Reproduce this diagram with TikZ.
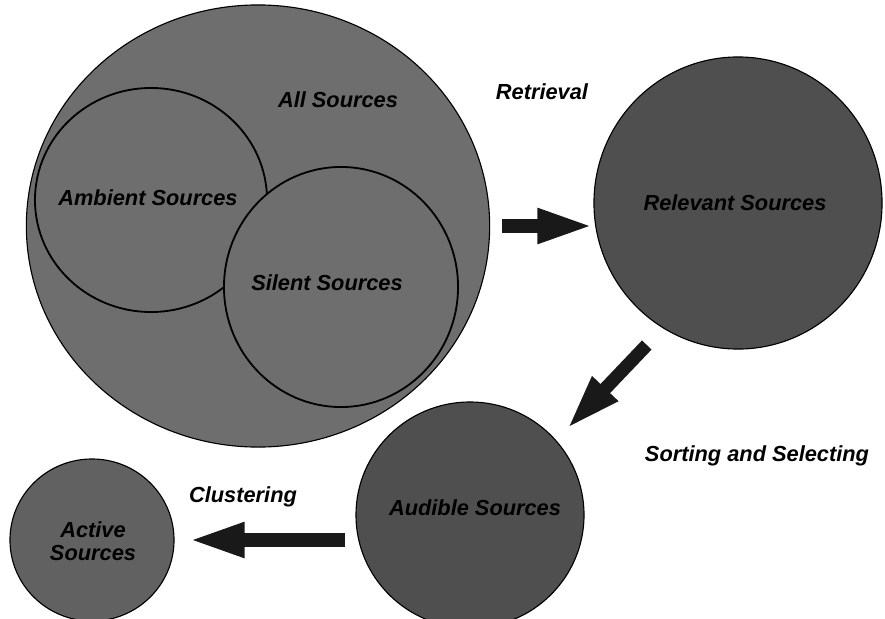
\documentclass[tikz,border=0pt]{standalone}
\usepackage{fontspec}
\newfontfamily\diagfont{Liberation Sans}
\usetikzlibrary{arrows.meta,shapes.geometric}
\definecolor{allgray}{gray}{0.43}
\definecolor{relgray}{gray}{0.31}
\definecolor{actgray}{gray}{0.38}
\tikzset{
  setcircle/.style={ellipse, draw=black, line width=0.8pt, inner sep=0pt},
  settext/.style={font=\diagfont\bfseries\itshape\fontsize{15.5}{16}\selectfont, align=center, inner sep=0pt},
  steparrow/.style={draw=black!90, line width=0.33cm, -{Triangle[length=1.4cm,width=0.8cm]}},
}
\begin{document}
\begin{tikzpicture}[x=0.025cm,y=-0.025cm]
  \useasboundingbox (0,0) rectangle (885,618);
  \node[setcircle, fill=allgray, minimum width=11.58cm, minimum height=11.05cm] (all) at (258,226) {};
  \node[setcircle, line width=1.3pt, fill=allgray, minimum width=5.8cm, minimum height=5.6cm] (amb) at (151,200) {};
  \node[setcircle, line width=1.3pt, fill=allgray, minimum width=5.85cm, minimum height=6cm] (sil) at (341,287) {};
  \node[setcircle, fill=relgray, minimum width=7.2cm, minimum height=7.3cm] (rel) at (738,203) {};
  \node[setcircle, fill=relgray, minimum width=5.7cm, minimum height=5.65cm] (aud) at (470,515) {};
  \node[setcircle, fill=actgray, minimum width=4.1cm, minimum height=4.05cm] (act) at (92,540) {};
  \node[settext] (alltext) at (338,100) {All Sources};
  \node[settext] (ambtext) at (148,198) {Ambient Sources};
  \node[settext] (siltext) at (327,283) {Silent Sources};
  \node[settext] (reltext) at (735,203) {Relevant Sources};
  \node[settext] (audtext) at (475,508) {Audible Sources};
  \node[settext] (acttext) at (93,541) {Active\\Sources};
  \node[settext] (retrieval) at (542,92) {Retrieval};
  \node[settext] (sorting) at (757,456) {Sorting and Selecting};
  \node[settext] (clustering) at (243,497) {Clustering};
  \draw[steparrow, shorten <=0.3cm] (all.east) -- (rel.west |- all.east);
  \draw[steparrow, shorten <=0.58cm, shorten >=0.38cm] (rel.239.6) -- (aud.41.5);
  \draw[steparrow, shorten <=0.25cm, shorten >=0.35cm] (aud.west |- act.east) -- (act.east);
\end{tikzpicture}
\end{document}
